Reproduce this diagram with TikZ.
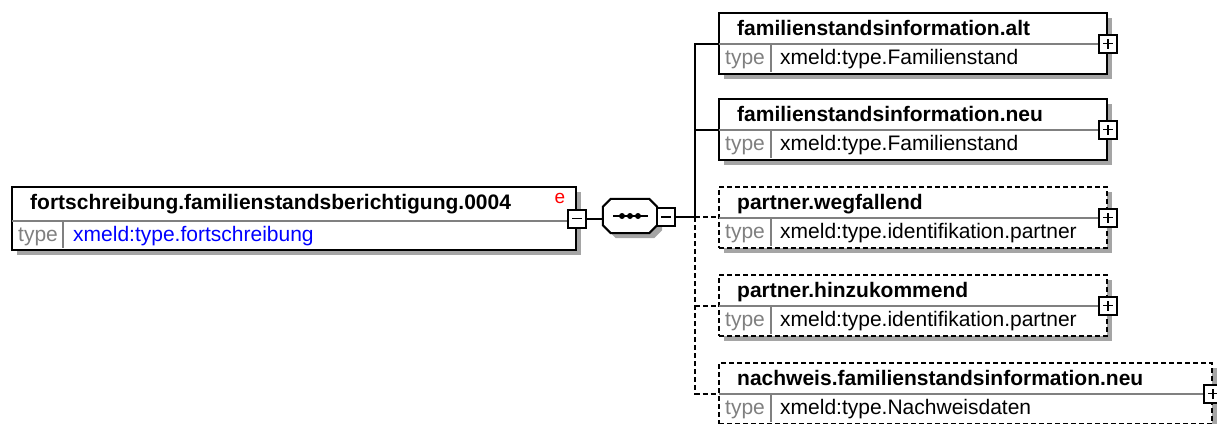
\documentclass[tikz,border=0pt]{standalone}
\usepackage{fontspec}
\setmainfont{Liberation Sans}
\usetikzlibrary{shadows}
\definecolor{tgray}{RGB}{128,128,128}
\definecolor{sgray}{RGB}{165,165,165}
\definecolor{xblue}{RGB}{0,0,255}
\definecolor{xred}{RGB}{255,0,0}
\newcommand\childbox[6]{%
  \node[#4, minimum width=#3pt, minimum height=61pt] (#1) at (718,#2) {};
  \draw[div] (719,{#2+32}) -- ({718+#3-1},{#2+32});
  \draw[celldiv] (771,{#2+33}) -- (771,{#2+60});
  \node[ttl] (#1T) at (737,{#2+23}) {#5};
  \node[tlab] (#1L) at (725,{#2+52}) {type};
  \node[tval] (#1V) at (780,{#2+52}) {#6};
}
\newcommand\octpath{([yshift=-8pt]seq.north west) -- ([xshift=8pt]seq.north west)
  -- ([xshift=-8pt]seq.north east) -- ([yshift=-8pt]seq.north east)
  -- ([yshift=8pt]seq.south east) -- ([xshift=-8pt]seq.south east)
  -- ([xshift=8pt]seq.south west) -- ([yshift=8pt]seq.south west) -- cycle}
\begin{document}
\begin{tikzpicture}[x=1pt,y=-1pt,
  elem/.style={draw, line width=2pt, fill=white, inner sep=0, anchor=north west,
    drop shadow={shadow xshift=5pt, shadow yshift=-5pt, fill=sgray, opacity=1}},
  optelem/.style={elem, dash pattern=on 5pt off 3pt},
  div/.style={draw=tgray, line width=2pt},
  celldiv/.style={draw=tgray, line width=1.5pt},
  ttl/.style={font=\fontsize{21}{25}\selectfont\bfseries, anchor=base west, inner sep=0},
  tlab/.style={font=\fontsize{21}{25}\selectfont, text=tgray, anchor=base west, inner sep=0},
  tval/.style={font=\fontsize{21}{25}\selectfont, anchor=base west, inner sep=0},
  pmbox/.style={draw, fill=white, line width=2pt, minimum size=18pt, inner sep=0},
  minusbox/.style={pmbox, path picture={\draw[line width=1.8pt]
      ([xshift=-5pt]path picture bounding box.center) -- ([xshift=5pt]path picture bounding box.center);}},
  plusbox/.style={pmbox, path picture={\draw[line width=1.8pt]
      ([xshift=-5pt]path picture bounding box.center) -- ([xshift=5pt]path picture bounding box.center)
      ([yshift=-5pt]path picture bounding box.center) -- ([yshift=5pt]path picture bounding box.center);}},
  conn/.style={line width=2pt},
  optconn/.style={conn, dash pattern=on 5pt off 3pt}
]
\useasboundingbox (0,0) rectangle (1217,423);
\clip (0,0) rectangle (1217,423);

% main element
\node[elem, minimum width=564pt, minimum height=63pt] (main) at (11,186) {};
\draw[div] (12,221) -- (574,221);
\draw[celldiv] (63,222) -- (63,248);
\node[ttl] (mainT) at (30,209) {fortschreibung.familienstandsberichtigung.0004};
\node[tlab] (mainL) at (18,241) {type};
\node[tval, text=xblue] (mainV) at (73,241) {xmeld:type.fortschreibung};
\node[font=\fontsize{19}{22}\selectfont, text=xred, anchor=base, inner sep=0] (mainE) at (560,203) {e};
\node[minusbox] (mainm) at (main.east) {};

% sequence compositor
\node[minimum width=54pt, minimum height=34pt, inner sep=0] (seq) at (630,216) {};
\fill[sgray, transform canvas={shift={(5pt,-5pt)}}] \octpath;
\draw[line width=2pt, fill=white] \octpath;
\draw[line width=2pt] ([xshift=-17pt]seq.center) -- ([xshift=18pt]seq.center);
\fill ([xshift=-8pt]seq.center) circle (3pt) (seq.center) circle (3pt) ([xshift=8pt]seq.center) circle (3pt);
\node[minusbox] (seqm) at (666,217) {};
\coordinate (jn) at (695,217);

% children
\childbox{c1}{12}{388}{elem}{familienstandsinformation.alt}{xmeld:type.Familienstand}
\childbox{c2}{98}{388}{elem}{familienstandsinformation.neu}{xmeld:type.Familienstand}
\childbox{c3}{186}{388}{optelem}{partner.wegfallend}{xmeld:type.identifikation.partner}
\childbox{c4}{274}{388}{optelem}{partner.hinzukommend}{xmeld:type.identifikation.partner}
\childbox{c5}{362}{493}{optelem}{nachweis.familienstandsinformation.neu}{xmeld:type.Nachweisdaten}

\node[plusbox] (c1p) at (c1.east) {};
\node[plusbox] (c2p) at (c2.east) {};
\node[plusbox] (c3p) at (c3.east) {};
\node[plusbox] (c4p) at (c4.east) {};
\node[plusbox] (c5p) at (c5.east) {};

% connectors
\draw[conn] (mainm.east) -- (seq.west |- mainm.east);
\draw[conn] (seqm.east) -- (jn);
\draw[conn] (jn) |- (c1.west);
\draw[conn] (jn) |- (c2.west);
\draw[optconn] (jn) -- (c3.west |- jn);
\draw[optconn] (jn) |- (c5.west);
\draw[optconn] (jn |- c4.west) -- (c4.west);
\end{tikzpicture}
\end{document}
